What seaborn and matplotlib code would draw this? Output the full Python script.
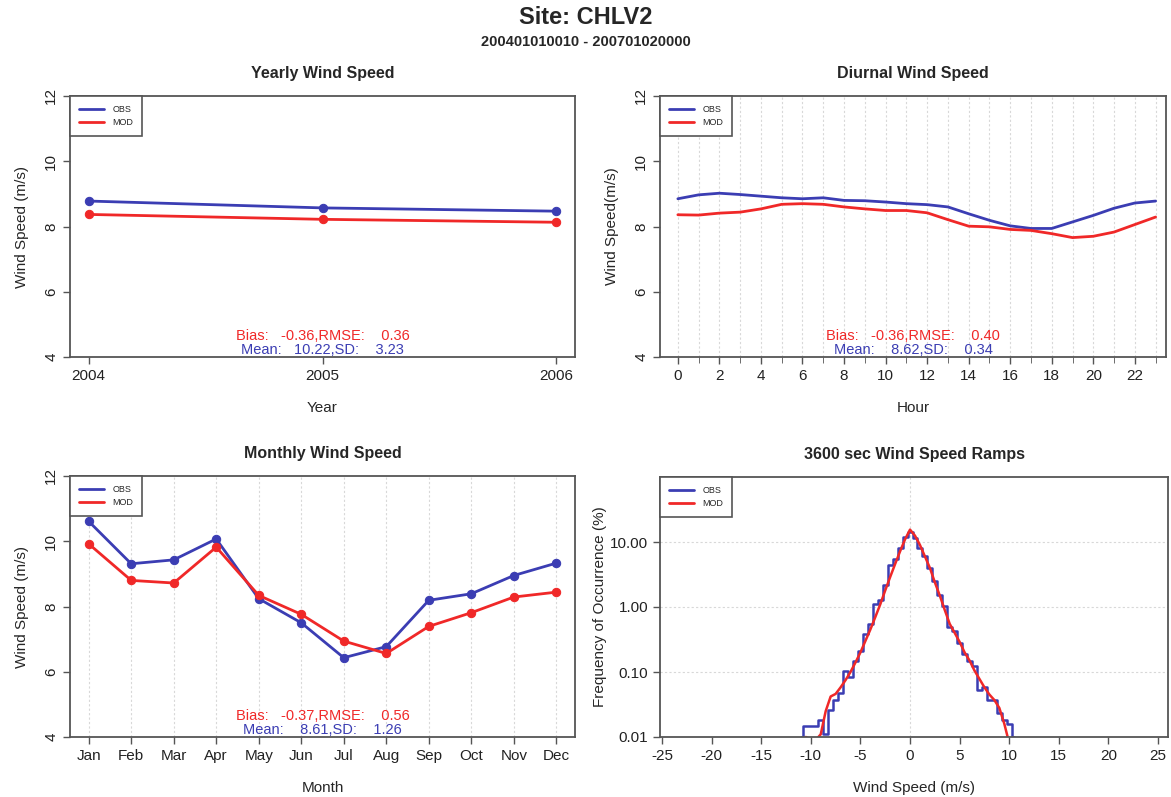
import numpy as np
import pandas as pd
import matplotlib
matplotlib.use("Agg")
import matplotlib.pyplot as plt
from matplotlib.lines import Line2D
import seaborn as sns

# ---------------- data ----------------
years = [2004, 2005, 2006]
yearly_obs = [8.78, 8.57, 8.47]
yearly_mod = [8.37, 8.22, 8.13]

hours = list(range(24))
diurnal_obs = [8.85, 8.97, 9.02, 8.98, 8.93, 8.88, 8.85, 8.88, 8.80, 8.79, 8.75, 8.70,
               8.67, 8.60, 8.39, 8.19, 8.02, 7.94, 7.94, 8.14, 8.34, 8.56, 8.72, 8.78]
diurnal_mod = [8.36, 8.35, 8.41, 8.44, 8.54, 8.68, 8.70, 8.68, 8.60, 8.54, 8.49, 8.49,
               8.42, 8.21, 8.01, 7.99, 7.91, 7.88, 7.78, 7.66, 7.70, 7.83, 8.06, 8.29]

months = ["Jan", "Feb", "Mar", "Apr", "May", "Jun", "Jul", "Aug", "Sep", "Oct", "Nov", "Dec"]
monthly_obs = [10.61, 9.31, 9.43, 10.07, 8.24, 7.50, 6.43, 6.77, 8.19, 8.39, 8.95, 9.33]
monthly_mod = [9.92, 8.80, 8.72, 9.82, 8.34, 7.76, 6.94, 6.56, 7.39, 7.81, 8.29, 8.44]

ramp_x = [-11.0, -10.5, -10.0, -9.5, -9.0, -8.5, -8.0, -7.5, -7.0, -6.5, -6.0, -5.5,
          -5.0, -4.5, -4.0, -3.5, -3.0, -2.5, -2.0, -1.5, -1.0, -0.5, 0.0, 0.5,
          1.0, 1.5, 2.0, 2.5, 3.0, 3.5, 4.0, 4.5, 5.0, 5.5, 6.0, 6.5,
          7.0, 7.5, 8.0, 8.5, 9.0, 9.5, 10.0, 10.5]
ramp_obs = [0.010, 0.015, 0.015, 0.015, 0.018, 0.011, 0.026, 0.037, 0.047, 0.105, 0.085, 0.15,
            0.21, 0.38, 0.55, 1.10, 1.30, 2.2, 4.5, 5.4, 8.1, 12.0, 14.5, 11.5,
            8.1, 6.0, 4.0, 2.5, 1.55, 1.03, 0.49, 0.43, 0.28, 0.19, 0.15, 0.125,
            0.053, 0.059, 0.037, 0.037, 0.023, 0.018, 0.016, 0.010]
ramp_mod = [0.005, 0.010, 0.009, 0.009, 0.011, 0.025, 0.042, 0.046, 0.058, 0.075, 0.10, 0.14,
            0.20, 0.30, 0.45, 0.70, 1.10, 1.8, 2.9, 4.6, 7.2, 11.0, 15.5, 12.5,
            9.0, 6.0, 4.0, 2.4, 1.5, 0.90, 0.55, 0.40, 0.29, 0.20, 0.15, 0.105,
            0.078, 0.058, 0.045, 0.037, 0.028, 0.016, 0.008, 0.005]

stats_yearly = ("Bias:   -0.36,RMSE:    0.36", "Mean:   10.22,SD:    3.23")
stats_diurnal = ("Bias:   -0.36,RMSE:    0.40", "Mean:    8.62,SD:    0.34")
stats_monthly = ("Bias:   -0.37,RMSE:    0.56", "Mean:    8.61,SD:    1.26")

# ---------------- style ----------------
sns.set_style("white")
plt.rcParams["font.family"] = ["Liberation Sans", "DejaVu Sans"]
plt.rcParams["axes.unicode_minus"] = False

BLUE = "#3b3db3"
RED = "#f02828"
FRAME = "#555555"
GRID = "#d8d8d8"

fig = plt.figure(figsize=(11.71, 7.97), dpi=100)
W, H = 1171.0, 797.0


def add_axes(l, r, t, b):
    return fig.add_axes([l / W, 1 - b / H, (r - l) / W, (b - t) / H])


ax1 = add_axes(70, 575, 96, 357)
ax2 = add_axes(660, 1166, 96, 357)
ax3 = add_axes(70, 575, 476, 737)
ax4 = add_axes(660, 1168, 477, 737)

fig.text(0.5, 1 - 18 / H, "Site: CHLV2", ha="center", va="center",
         fontsize=17, fontweight="bold")
fig.text(0.5, 1 - 42 / H, "200401010010 - 200701020000", ha="center", va="center",
         fontsize=10.5, fontweight="bold")


def style_axes(ax, title, xlabel, ylabel, rot_y=True):
    for s in ax.spines.values():
        s.set_color(FRAME)
        s.set_linewidth(1.3)
    ax.tick_params(axis="both", direction="out", length=5, width=1, color=FRAME,
                   labelsize=11, labelcolor="#222222", bottom=True, left=True)
    if rot_y:
        for lab in ax.get_yticklabels():
            lab.set_rotation(90)
            lab.set_va("center")
    ax.set_title(title, fontsize=11.5, fontweight="bold", pad=13)
    ax.set_xlabel(xlabel, fontsize=11, labelpad=13)
    ax.set_ylabel(ylabel, fontsize=11, labelpad=11)


def add_legend(ax):
    handles = [Line2D([0], [0], color=BLUE, lw=2), Line2D([0], [0], color=RED, lw=2)]
    leg = ax.legend(handles, ["OBS", "MOD"], loc="upper left", borderaxespad=0,
                    fancybox=False, framealpha=1, edgecolor=FRAME, fontsize=6.5,
                    handlelength=2.8, borderpad=1.0, labelspacing=0.45, handletextpad=0.9)
    leg.get_frame().set_linewidth(1.2)


def add_stats(ax, lines):
    ax.text(0.5, 0.08, lines[0], transform=ax.transAxes, ha="center", va="center",
            color=RED, fontsize=10.5)
    ax.text(0.5, 0.027, lines[1], transform=ax.transAxes, ha="center", va="center",
            color=BLUE, fontsize=10.5)


# ---- Panel 1: yearly ----
df_y = pd.DataFrame({"Year": years, "OBS": yearly_obs, "MOD": yearly_mod})
sns.lineplot(data=df_y, x="Year", y="OBS", ax=ax1, color=BLUE, marker="o",
             markersize=6, markeredgecolor=BLUE, linewidth=2)
sns.lineplot(data=df_y, x="Year", y="MOD", ax=ax1, color=RED, marker="o",
             markersize=6, markeredgecolor=RED, linewidth=2)
ax1.set_xlim(2003.92, 2006.08)
ax1.set_ylim(4, 12)
ax1.set_xticks(years)
ax1.set_xticklabels([str(y) for y in years])
ax1.set_yticks([4, 6, 8, 10, 12])
style_axes(ax1, "Yearly Wind Speed", "Year", "Wind Speed (m/s)")
add_legend(ax1)
add_stats(ax1, stats_yearly)

# ---- Panel 2: diurnal ----
df_d = pd.DataFrame({"Hour": hours, "OBS": diurnal_obs, "MOD": diurnal_mod})
for h in hours:
    ax2.axvline(h, color=GRID, linestyle=(0, (2, 2)), linewidth=0.8, zorder=0)
sns.lineplot(data=df_d, x="Hour", y="OBS", ax=ax2, color=BLUE, linewidth=2)
sns.lineplot(data=df_d, x="Hour", y="MOD", ax=ax2, color=RED, linewidth=2)
ax2.set_xlim(-0.86, 23.5)
ax2.set_ylim(4, 12)
ax2.set_xticks(list(range(0, 24, 2)))
ax2.set_xticks(hours, minor=True)
ax2.tick_params(axis="x", which="minor", direction="out", length=4, color=FRAME, bottom=True)
ax2.set_yticks([4, 6, 8, 10, 12])
style_axes(ax2, "Diurnal Wind Speed", "Hour", "Wind Speed(m/s)")
add_legend(ax2)
add_stats(ax2, stats_diurnal)

# ---- Panel 3: monthly ----
month_idx = list(range(1, 13))
df_m = pd.DataFrame({"Month": month_idx, "OBS": monthly_obs, "MOD": monthly_mod})
for m in month_idx:
    ax3.axvline(m, color=GRID, linestyle=(0, (2, 2)), linewidth=0.8, zorder=0)
sns.lineplot(data=df_m, x="Month", y="OBS", ax=ax3, color=BLUE, marker="o",
             markersize=6, markeredgecolor=BLUE, linewidth=2)
sns.lineplot(data=df_m, x="Month", y="MOD", ax=ax3, color=RED, marker="o",
             markersize=6, markeredgecolor=RED, linewidth=2)
ax3.set_xlim(0.56, 12.44)
ax3.set_ylim(4, 12)
ax3.set_xticks(month_idx)
ax3.set_xticklabels(months)
ax3.set_yticks([4, 6, 8, 10, 12])
style_axes(ax3, "Monthly Wind Speed", "Month", "Wind Speed (m/s)")
add_legend(ax3)
add_stats(ax3, stats_monthly)

# ---- Panel 4: ramps ----
df_r = pd.DataFrame({"Speed": ramp_x, "OBS": ramp_obs, "MOD": ramp_mod})
for yv in [0.1, 1, 10]:
    ax4.axhline(yv, color=GRID, linestyle=(0, (2, 2)), linewidth=0.8, zorder=0)
ax4.axvline(0, color=GRID, linestyle=(0, (2, 2)), linewidth=0.8, zorder=0)
sns.lineplot(data=df_r, x="Speed", y="OBS", ax=ax4, color=BLUE, linewidth=1.8,
             drawstyle="steps-mid")
sns.lineplot(data=df_r, x="Speed", y="MOD", ax=ax4, color=RED, linewidth=1.8)
ax4.set_yscale("log")
ax4.set_xlim(-25.2, 26.0)
ax4.set_ylim(0.01, 100)
ax4.set_xticks(list(range(-25, 30, 5)))
ax4.set_yticks([0.01, 0.1, 1, 10])
ax4.set_yticklabels(["0.01", "0.10", "1.00", "10.00"])
ax4.yaxis.set_minor_locator(matplotlib.ticker.NullLocator())
style_axes(ax4, "3600 sec Wind Speed Ramps", "Wind Speed (m/s)",
           "Frequency of Occurrence (%)", rot_y=False)
ax4.yaxis.labelpad = 2
add_legend(ax4)

fig.savefig("out.png", dpi=100)
